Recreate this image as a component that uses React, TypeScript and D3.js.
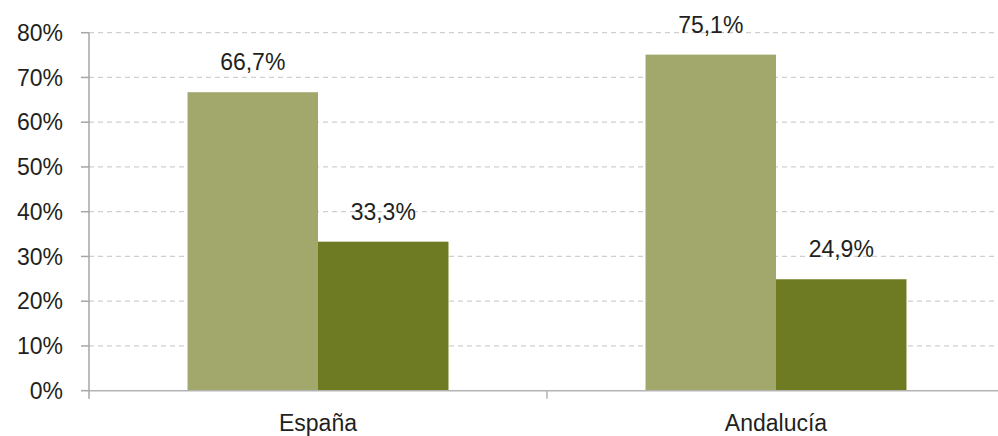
import React from "react";
import * as d3 from "d3";

const categories = ["España", "Andalucía"];
const series = ["a", "b"];
const valuesA = [66.7, 75.1];
const valuesB = [33.3, 24.9];
const yTicks = [0, 10, 20, 30, 40, 50, 60, 70, 80];

const colors = ["#a2a86c", "#6f7b22"];

const width = 998;
const height = 436;
const margin = { left: 89, top: 32.7, right: -7, bottom: 45.3 };

const fmt = (v: number) => v.toFixed(1).replace(".", ",") + "%";

export default function App() {
  const plotBottom = height - margin.bottom;
  const plotRight = width - margin.right;

  const x0 = d3.scaleBand().domain(categories).range([margin.left, plotRight]).padding(0);
  const x1 = d3
    .scaleBand()
    .domain(series)
    .range([0, x0.bandwidth()])
    .paddingInner(0)
    .paddingOuter(0.755);
  const y = d3.scaleLinear().domain([0, 80]).range([plotBottom, margin.top]);

  const data = categories.map((c, i) => ({ cat: c, vals: [valuesA[i], valuesB[i]] }));
  const font = "Liberation Sans, Arial, sans-serif";
  const fs = 23;

  return (
    <div style={{ position: "absolute", left: 0, top: 0 }}>
      <svg width={width} height={height} style={{ display: "block" }}>
        {/* grid */}
        {yTicks.slice(1).map(t => (
          <line
            key={t}
            x1={margin.left}
            x2={plotRight}
            y1={y(t)}
            y2={y(t)}
            stroke="#cfcfcf"
            strokeWidth={1.2}
            strokeDasharray="5,4"
          />
        ))}

        {/* bars */}
        {data.map(d => (
          <g key={d.cat} transform={`translate(${x0(d.cat)},0)`}>
            {d.vals.map((v, j) => (
              <g key={j}>
                <rect
                  x={x1(series[j])}
                  y={y(v)}
                  width={x1.bandwidth()}
                  height={plotBottom - y(v)}
                  fill={colors[j]}
                />
                <text
                  x={(x1(series[j]) as number) + x1.bandwidth() / 2}
                  y={y(v) - 22}
                  textAnchor="middle"
                  fontFamily={font}
                  fontSize={fs}
                  fill="#231f20"
                >
                  {fmt(v)}
                </text>
              </g>
            ))}
          </g>
        ))}

        {/* y axis */}
        <line x1={margin.left} x2={margin.left} y1={margin.top} y2={plotBottom + 8} stroke="#a6a6a6" strokeWidth={1.5} />
        {yTicks.map(t => (
          <g key={t}>
            <line x1={margin.left - 8} x2={margin.left} y1={y(t)} y2={y(t)} stroke="#a6a6a6" strokeWidth={1.5} />
            <text
              x={63}
              y={y(t)}
              dy="0.36em"
              textAnchor="end"
              fontFamily={font}
              fontSize={fs}
              fill="#231f20"
            >
              {t}%
            </text>
          </g>
        ))}

        {/* x axis */}
        <line x1={margin.left} x2={plotRight} y1={plotBottom} y2={plotBottom} stroke="#b4b4b4" strokeWidth={1.5} />
        {categories.map(c => (
          <g key={c}>
            <line
              x1={(x0(c) as number) + x0.bandwidth()}
              x2={(x0(c) as number) + x0.bandwidth()}
              y1={plotBottom}
              y2={plotBottom + 8}
              stroke="#b4b4b4"
              strokeWidth={1.5}
            />
            <text
              x={(x0(c) as number) + x0.bandwidth() / 2}
              y={431}
              textAnchor="middle"
              fontFamily={font}
              fontSize={fs}
              fill="#231f20"
            >
              {c}
            </text>
          </g>
        ))}
      </svg>
    </div>
  );
}
